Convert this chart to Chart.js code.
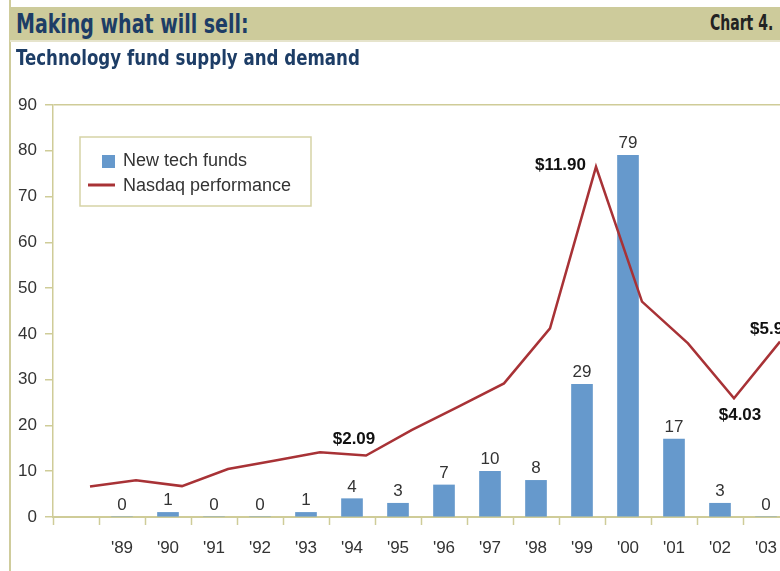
<!DOCTYPE html>
<html><head><meta charset="utf-8">
<script src="https://cdn.jsdelivr.net/npm/chart.js@4.4.1/dist/chart.umd.min.js"></script>
<style>
html,body{margin:0;padding:0;background:#fff;}
#wrap{position:relative;width:780px;height:571px;overflow:hidden;background:#fff;}
#chart{position:absolute;left:0;top:0;}
.hd{position:absolute;white-space:nowrap;transform-origin:0 50%;font-weight:bold;}
</style></head><body>
<div id="wrap">
  <canvas id="chart" width="800" height="571"></canvas>
  <div style="position:absolute;left:9px;top:0;width:2px;height:571px;background:#cfcc9c"></div>
  <div style="position:absolute;left:10px;top:7px;width:770px;height:33px;background:#cdcb9b"></div>
  <div style="position:absolute;left:10px;top:40px;width:770px;height:2px;background:#e6e4cc"></div>
  <div id="title" class="hd">Making what will sell:</div>
  <div id="chartno" class="hd">Chart 4.</div>
  <div id="subtitle" class="hd">Technology fund supply and demand</div>
</div>
<script>
// ---- data ----
const categories = ["", "'89", "'90", "'91", "'92", "'93", "'94", "'95", "'96", "'97", "'98", "'99", "'00", "'01", "'02", "'03"];
const newTechFunds = [null, 0, 1, 0, 0, 1, 4, 3, 7, 10, 8, 29, 79, 17, 3, 0];
const nasdaqValue = [1.04, 1.25, 1.05, 1.63, 1.91, 2.20, 2.09, 2.96, 3.74, 4.54, 6.41, 11.90, 7.32, 5.90, 4.03, 5.96];
const calloutYears = ["'94", "'99", "'02", "'03"];
const yTicks = [0, 10, 20, 30, 40, 50, 60, 70, 80, 90];
const seriesNames = ["New tech funds", "Nasdaq performance"];

// ---- style ----
const FONT = "'Liberation Sans', Arial, sans-serif";
const HFONT = "'Liberation Sans Narrow', 'DejaVu Sans Condensed', 'Liberation Sans', sans-serif";
const OLIVE = '#cfcc98';
const BAR = '#6699cc';
const LINE = '#a83236';
const LINE_SHIFT = 14;
const calloutPlace = { "'94": {dx:-12, dy:-16, align:'center'}, "'99": {dx:-10, dy:-1, align:'right'},
                       "'02": {dx:6, dy:17, align:'center'}, "'03": {dx:-30, dy:-12, align:'left'} };

function fitText(id, x, cy, size, width, color, right) {
  const el = document.getElementById(id);
  el.style.fontFamily = HFONT; el.style.fontSize = size + 'px'; el.style.lineHeight = size + 'px';
  el.style.color = color;
  const w = el.offsetWidth;
  el.style.top = (cy - size / 2) + 'px';
  el.style.left = (right ? x - width : x) + 'px';
  el.style.transform = 'scaleX(' + (width / w) + ')';
}
fitText('title', 16, 23, 27, 233, '#1d3d66', false);
fitText('chartno', 773, 23, 21, 63, '#222', true);
fitText('subtitle', 16, 58, 22, 344, '#1d3d66', false);

const annot = {
  id: 'annot',
  beforeDatasetDraw(chart, args) { if (args.index === 1) { chart.ctx.save(); chart.ctx.translate(LINE_SHIFT, 0); } },
  afterDatasetDraw(chart, args) { if (args.index === 1) { chart.ctx.restore(); } },
  afterDatasetsDraw(chart) {
    const ctx = chart.ctx;
    const bm = chart.getDatasetMeta(0), lm = chart.getDatasetMeta(1);
    ctx.save();
    ctx.font = '17px ' + FONT; ctx.fillStyle = '#333'; ctx.textAlign = 'center'; ctx.textBaseline = 'alphabetic';
    newTechFunds.forEach((v, i) => { if (v == null) return; const el = bm.data[i]; ctx.fillText(String(v), el.x, el.y - 7); });
    ctx.font = 'bold 17px ' + FONT; ctx.fillStyle = '#111'; ctx.textBaseline = 'middle';
    calloutYears.forEach(c => {
      const i = categories.indexOf(c); const el = lm.data[i]; const p = calloutPlace[c];
      ctx.textAlign = p.align;
      ctx.fillText('$' + nasdaqValue[i].toFixed(2), el.x + LINE_SHIFT + p.dx, el.y + p.dy);
    });
    // legend
    const a = chart.chartArea;
    const lx = a.left + 27, ly = a.top + 32;
    ctx.fillStyle = '#fff'; ctx.fillRect(lx, ly, 231, 69);
    ctx.strokeStyle = '#d6d3a6'; ctx.lineWidth = 1.5; ctx.strokeRect(lx, ly, 231, 69);
    ctx.fillStyle = BAR; ctx.fillRect(lx + 22, ly + 18, 13, 13);
    ctx.strokeStyle = LINE; ctx.lineWidth = 3; ctx.beginPath(); ctx.moveTo(lx + 8, ly + 48); ctx.lineTo(lx + 35, ly + 48); ctx.stroke();
    ctx.font = '18px ' + FONT; ctx.fillStyle = '#333'; ctx.textAlign = 'left'; ctx.textBaseline = 'middle';
    ctx.fillText(seriesNames[0], lx + 43, ly + 24);
    ctx.fillText(seriesNames[1], lx + 43, ly + 49);
    ctx.restore();
  }
};

new Chart(document.getElementById('chart'), {
  data: {
    labels: categories,
    datasets: [
      { type: 'bar', label: seriesNames[0], data: newTechFunds, backgroundColor: BAR, barThickness: 21, yAxisID: 'y', order: 2 },
      { type: 'line', label: seriesNames[1], data: nasdaqValue, borderColor: LINE, borderWidth: 2.5, pointRadius: 0, tension: 0, yAxisID: 'y2', clip: false, order: 1 }
    ]
  },
  options: {
    responsive: false, animation: false, devicePixelRatio: 1,
    layout: { padding: { top: 105, left: 0, right: 11, bottom: 0 } },
    plugins: { legend: { display: false }, tooltip: { enabled: false } },
    scales: {
      x: {
        type: 'category', offset: true,
        grid: { display: true, drawOnChartArea: false, drawTicks: true, tickLength: 8, tickColor: OLIVE, tickWidth: 1.5, offset: true },
        border: { display: true, color: OLIVE, width: 2 },
        ticks: { color: '#333', font: { family: FONT, size: 17 }, padding: 13, maxRotation: 0, autoSkip: false },
        afterFit(s) { s.height = 54; }
      },
      y: {
        min: yTicks[0], max: yTicks[yTicks.length - 1], position: 'left',
        afterBuildTicks(s) { s.ticks = yTicks.map(v => ({ value: v })); },
        ticks: { color: '#333', font: { family: FONT, size: 17 }, padding: 8 },
        grid: { color: c => (c.tick && c.tick.value === 90) ? OLIVE : 'rgba(0,0,0,0)', lineWidth: 1.5, tickColor: OLIVE, tickLength: 8, drawTicks: true },
        border: { display: true, color: OLIVE, width: 1.5 },
        afterFit(s) { s.width = 53; }
      },
      y2: { display: false, min: 0, max: 14 }
    }
  },
  plugins: [annot]
});
</script>
</body></html>
